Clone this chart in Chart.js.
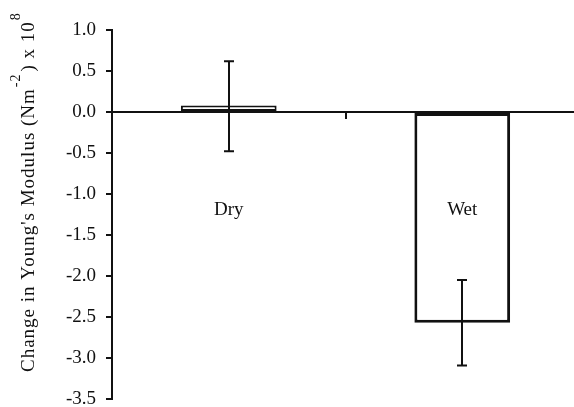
<!DOCTYPE html>
<html>
<head>
<meta charset="utf-8">
<script src="https://cdn.jsdelivr.net/npm/chart.js@4.4.1/dist/chart.umd.min.js"></script>
<style>
html, body { margin: 0; padding: 0; background: #fff; overflow: hidden; }
#wrap { width: 580px; height: 407px; }
</style>
</head>
<body>
<div id="wrap"><canvas id="chart" width="580" height="407"></canvas></div>
<script>
const groups = ["Dry", "Wet"];            // categories
const change = [0.08, -2.57];             // mean change, x 10^8 N m^-2
const errUp = [0.54, 0.52];               // error bar, upper half
const errDown = [0.56, 0.52];             // error bar, lower half
const yMin = -3.5, yMax = 1.0, yStep = 0.5;

const serif = "'Liberation Serif', 'Times New Roman', serif";
const ink = "#111";

// error bars drawn over the bars
const errorBars = {
  id: "errorBars",
  afterDatasetsDraw(chart) {
    const ctx = chart.ctx;
    const y = chart.scales.y;
    const meta = chart.getDatasetMeta(0);
    ctx.save();
    ctx.strokeStyle = ink;
    ctx.lineWidth = 2;
    meta.data.forEach((bar, i) => {
      const x = Math.round(bar.x);
      const top = y.getPixelForValue(change[i] + errUp[i]);
      const bot = y.getPixelForValue(change[i] - errDown[i]);
      ctx.beginPath();
      ctx.moveTo(x, top); ctx.lineTo(x, bot);
      ctx.moveTo(x - 5, top); ctx.lineTo(x + 5, top);
      ctx.moveTo(x - 5, bot); ctx.lineTo(x + 5, bot);
      ctx.stroke();
    });
    ctx.restore();
  }
};

// category names sit inside the plot, below the zero line
const groupLabels = {
  id: "groupLabels",
  afterDatasetsDraw(chart) {
    const ctx = chart.ctx;
    const y = chart.scales.y.getPixelForValue(-1.25);
    ctx.save();
    ctx.font = "19px " + serif;
    ctx.fillStyle = ink;
    ctx.textAlign = "center";
    ctx.textBaseline = "alphabetic";
    chart.getDatasetMeta(0).data.forEach((bar, i) => {
      ctx.fillText(groups[i], bar.x, y);
    });
    ctx.restore();
  }
};

// rotated y title with superscripts
const yTitle = {
  id: "yTitle",
  afterDraw(chart) {
    const ctx = chart.ctx;
    const parts = [["Change in Young's Modulus (Nm", false], ["-2", true], [") x 10", false], ["8", true]];
    ctx.save();
    ctx.translate(34, 372);
    ctx.rotate(-Math.PI / 2);
    ctx.fillStyle = ink;
    ctx.textBaseline = "alphabetic";
    ctx.letterSpacing = "1px";
    let pos = 0;
    parts.forEach(([txt, sup]) => {
      ctx.font = (sup ? "14px " : "19px ") + serif;
      if (sup) pos += 1;
      ctx.fillText(txt, pos, sup ? -14 : 0);
      pos += ctx.measureText(txt).width + (sup ? 2 : 0);
    });
    ctx.restore();
  }
};

new Chart(document.getElementById("chart"), {
  type: "bar",
  data: {
    labels: groups,
    datasets: [{
      data: change,
      backgroundColor: "#fff",
      borderColor: ink,
      borderWidth: [2, 3],
      borderSkipped: false,
      inflateAmount: 0,
      categoryPercentage: 1.0,
      barPercentage: 0.41
    }]
  },
  options: {
    responsive: false,
    animation: false,
    devicePixelRatio: 1,
    layout: { padding: { top: 30, bottom: 8, left: 0, right: 1 } },
    plugins: { legend: { display: false }, tooltip: { enabled: false } },
    scales: {
      x: {
        position: { y: 0 },
        offset: true,
        z: 1,
        ticks: { display: false },
        grid: { display: true, drawOnChartArea: false, drawTicks: true, tickLength: 6, offset: true, color: ink, lineWidth: 2 },
        border: { display: true, color: ink, width: 2 }
      },
      y: {
        min: yMin,
        max: yMax,
        ticks: {
          stepSize: yStep,
          color: ink,
          padding: 10,
          font: { family: serif, size: 19 },
          callback: v => v.toFixed(1)
        },
        grid: { display: true, drawOnChartArea: false, drawTicks: true, tickLength: 6, color: ink, lineWidth: 2 },
        border: { display: true, color: ink, width: 2 },
        afterFit(scale) {
          scale.width = 112;
          scale.paddingTop = 0;
          scale.paddingBottom = 0;
        }
      }
    }
  },
  plugins: [errorBars, groupLabels, yTitle]
});
</script>
</body>
</html>
